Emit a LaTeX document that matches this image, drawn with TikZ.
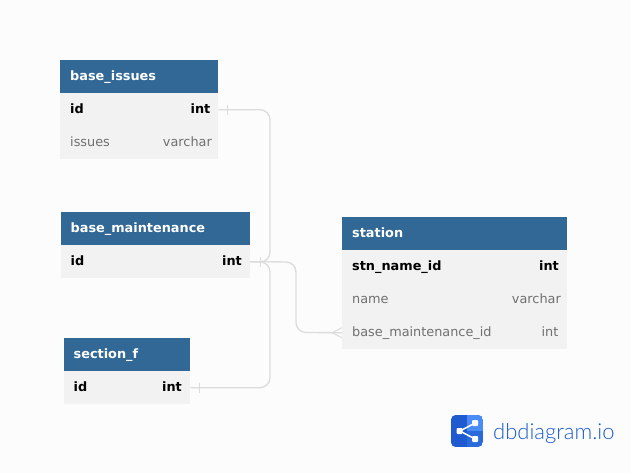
\documentclass[tikz,border=0pt]{standalone}
\usepackage{fontspec}
\setmainfont{DejaVu Sans}
\newfontfamily\logofont{Lato Light}
\usetikzlibrary{calc}
\definecolor{pagebg}{HTML}{FCFCFC}
\definecolor{headbg}{HTML}{316896}
\definecolor{rowbg}{HTML}{F2F2F2}
\definecolor{greytxt}{HTML}{707070}
\definecolor{linkcol}{HTML}{DCDCDC}
\definecolor{logomain}{HTML}{2A6BDC}
\definecolor{logotxt}{HTML}{1C5CCB}
\definecolor{logodark}{HTML}{1F5AD0}
\definecolor{logolight}{HTML}{4A8CF5}
\tikzset{
  x=1pt,y=-1pt,
  headbox/.style={fill=headbg,draw=none,anchor=north west,inner sep=0pt,minimum height=33pt},
  rowbox/.style={fill=rowbg,draw=none,anchor=north west,inner sep=0pt,minimum height=33pt},
  txt/.style={inner sep=0pt,font=\fontsize{12.85}{13}\selectfont},
  headtxt/.style={txt,anchor=base west,text=white,font=\fontsize{12.85}{13}\selectfont\bfseries},
  pkname/.style={txt,anchor=base west,text=black,font=\fontsize{12.85}{13}\selectfont\bfseries},
  pktype/.style={txt,anchor=base east,text=black,font=\fontsize{12.85}{13}\selectfont\bfseries},
  fname/.style={txt,anchor=base west,text=greytxt},
  ftype/.style={txt,anchor=base east,text=greytxt},
  link/.style={draw=linkcol,line width=1.3pt,rounded corners=10pt},
  cardmark/.style={draw=linkcol,line width=1pt},
}
\begin{document}
\begin{tikzpicture}
\path[use as bounding box,fill=pagebg] (0,0) rectangle (631,473);

% base_issues
\node[headbox,minimum width=158pt] (bih) at (60,60) {};
\node[rowbox,minimum width=158pt] (bi1) at (60,93) {};
\node[rowbox,minimum width=158pt] (bi2) at (60,126) {};
\node[headtxt] (bit) at (70,81) {base\_issues};
\node[pkname] (bi1n) at (70,114) {id};
\node[pktype] (bi1t) at (210.5,114) {int};
\node[fname] (bi2n) at (70,147) {issues};
\node[ftype] (bi2t) at (212,147) {varchar};

% base_maintenance
\node[headbox,minimum width=189pt] (bmh) at (61,212) {};
\node[rowbox,minimum width=189pt] (bm1) at (61,245) {};
\node[headtxt] (bmt) at (70.5,232) {base\_maintenance};
\node[pkname] (bm1n) at (70.5,265) {id};
\node[pktype] (bm1t) at (242,265) {int};

% section_f
\node[headbox,minimum width=126pt] (sfh) at (64,338) {};
\node[rowbox,minimum width=126pt] (sf1) at (64,371) {};
\node[headtxt] (sft) at (73.5,358) {section\_f};
\node[pkname] (sf1n) at (73.5,391) {id};
\node[pktype] (sf1t) at (182,391) {int};

% station
\node[headbox,minimum width=225pt] (sth) at (342,217) {};
\node[rowbox,minimum width=225pt] (st1) at (342,250) {};
\node[rowbox,minimum width=225pt] (st2) at (342,283) {};
\node[rowbox,minimum width=225pt] (st3) at (342,316) {};
\node[headtxt] (stt) at (352,237) {station};
\node[pkname] (st1n) at (352,270) {stn\_name\_id};
\node[pktype] (st1t) at (559,270) {int};
\node[fname] (st2n) at (352,303) {name};
\node[ftype] (st2t) at (561,303) {varchar};
\node[fname] (st3n) at (352,336) {base\_maintenance\_id};
\node[ftype] (st3t) at (558.5,336) {int};

% connectors
\coordinate (bus) at (270,262);
\coordinate (elbowA) at (296,262);
\coordinate (elbowB) at (296,332.5);
\draw[link] (bi1.east) -| (bus) -- (bm1.east);
\draw[link] (sf1.east) -| (bus) -- (bm1.east);
\draw[link] (bm1.east) -- (elbowA) -- (elbowB) -- (st3.west);

% cardinality marks
\draw[cardmark] ($(bi1.east)+(9,-5)$) -- ($(bi1.east)+(9,5)$);
\draw[cardmark] ($(bm1.east)+(10,-5)$) -- ($(bm1.east)+(10,5)$);
\draw[cardmark] ($(sf1.east)+(9,-5)$) -- ($(sf1.east)+(9,5)$);
\draw[cardmark] ($(st3.west)+(0,-5)$) -- ($(st3.west)+(-10,0)$) -- ($(st3.west)+(0,5)$);

% logo
\begin{scope}
\clip[rounded corners=5pt] (451,415) rectangle (483,447);
\fill[logomain] (451,415) rectangle (483,447);
\fill[logodark] (451,415) rectangle (467,447);
\fill[logolight] (467,415) rectangle (483,431);
\end{scope}
\coordinate (hubL) at (460,431);
\coordinate (hubT) at (475,423);
\coordinate (hubB) at (475,439);
\draw[white,line width=1.5pt] (hubT) -- (hubL) -- (hubB);
\fill[white,rounded corners=1pt] (456.5,428) rectangle (462.5,434);
\fill[white,rounded corners=1pt] (472,420) rectangle (478,426);
\fill[white,rounded corners=1pt] (472,436) rectangle (478,442);
\node[inner sep=0pt,anchor=base west,text=logotxt,font=\logofont\fontsize{22}{22}\selectfont] (logotext) at (493,439) {dbdiagram.io};
\end{tikzpicture}
\end{document}
